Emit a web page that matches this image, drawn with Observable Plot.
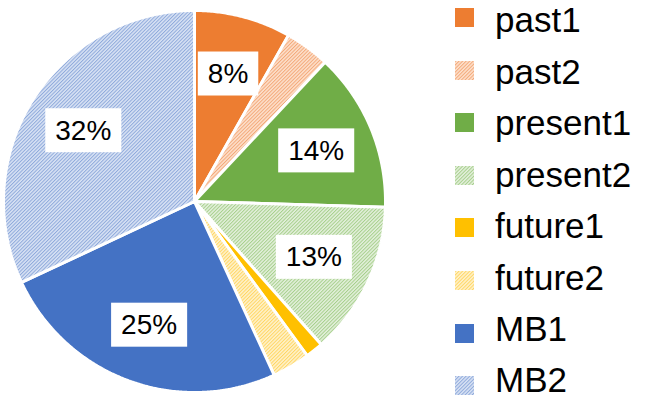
<!DOCTYPE html>
<html>
<head>
<meta charset="utf-8">
<script src="https://cdn.jsdelivr.net/npm/d3@7"></script>
<script src="https://cdn.jsdelivr.net/npm/@observablehq/plot@0.6"></script>
<style>
  html, body { margin: 0; padding: 0; background: #fff; }
  #wrap { position: relative; width: 647px; height: 400px; font-family: "Liberation Sans", Arial, sans-serif; }
  #chart { position: absolute; left: 0; top: 0; }
  #legend { position: absolute; left: 455px; top: 0; width: 192px; height: 400px; }
  .sw { position: absolute; left: 0; display: block; }
  .lt { position: absolute; left: 40px; font-size: 35px; line-height: normal; color: #000; white-space: nowrap; }
</style>
</head>
<body>
<svg width="0" height="0" style="position:absolute">
  <defs>
    <pattern id="p-past2" width="2.5" height="2.5" patternUnits="userSpaceOnUse" patternTransform="rotate(45)">
      <rect width="2.5" height="2.5" fill="#fde1cd"></rect>
      <rect width="1" height="2.5" fill="#f3a878"></rect>
    </pattern>
    <pattern id="p-present2" width="2.5" height="2.5" patternUnits="userSpaceOnUse" patternTransform="rotate(45)">
      <rect width="2.5" height="2.5" fill="#e4f0dc"></rect>
      <rect width="1" height="2.5" fill="#a6cf8b"></rect>
    </pattern>
    <pattern id="p-future2" width="2.5" height="2.5" patternUnits="userSpaceOnUse" patternTransform="rotate(45)">
      <rect width="2.5" height="2.5" fill="#fff2cc"></rect>
      <rect width="1" height="2.5" fill="#ffd662"></rect>
    </pattern>
    <pattern id="p-MB2" width="2.5" height="2.5" patternUnits="userSpaceOnUse" patternTransform="rotate(45)">
      <rect width="2.5" height="2.5" fill="#d9e3f4"></rect>
      <rect width="1" height="2.5" fill="#8ea9db"></rect>
    </pattern>
  </defs>
</svg>
<div id="wrap">
  <div id="chart"></div>
  <div id="legend"></div>
</div>
<script>
const categories = ["past1", "past2", "present1", "present2", "future1", "future2", "MB1", "MB2"];
const values = [8.2, 3.8, 13.5, 13.0, 1.5, 3.2, 24.9, 32.0];
const labels = ["8%", "", "14%", "13%", "", "", "25%", "32%"];
const fills = ["#ED7D31", "url(#p-past2)", "#70AD47", "url(#p-present2)", "#FFC000", "url(#p-future2)", "#4472C4", "url(#p-MB2)"];

const total = d3.sum(values);
const slices = [];
const labelData = [];
let acc = 0;
categories.forEach((c, i) => {
  const a0 = acc / total * 2 * Math.PI;
  acc += values[i];
  const a1 = acc / total * 2 * Math.PI;
  slices.push({cat: c, fill: fills[i], x: 0, y: 0});
  const n = Math.max(2, Math.ceil((a1 - a0) / (Math.PI / 360)));
  for (let k = 0; k <= n; k++) {
    const a = a0 + (a1 - a0) * k / n;
    slices.push({cat: c, fill: fills[i], x: Math.sin(a), y: Math.cos(a)});
  }
  if (labels[i]) {
    const m = (a0 + a1) / 2;
    labelData.push({label: labels[i], x: 0.69 * Math.sin(m), y: 0.69 * Math.cos(m)});
  }
});

const plot = Plot.plot({
  width: 647,
  height: 400,
  marginLeft: 3,
  marginRight: 262,
  marginTop: 10,
  marginBottom: 8,
  x: {domain: [-1, 1], axis: null},
  y: {domain: [-1, 1], axis: null},
  color: {type: "identity"},
  style: {background: "#fff", overflow: "visible"},
  marks: [
    Plot.line(slices, {x: "x", y: "y", z: "cat", fill: "fill", stroke: "#fff", strokeWidth: 3, strokeLinejoin: "miter", curve: "linear-closed"}),
    Plot.text(labelData, {x: "x", y: "y", text: "label", fontSize: 28, fill: "#000", fontFamily: "Liberation Sans, Arial, sans-serif", className: "pct"})
  ]
});
document.getElementById("chart").appendChild(plot);

// white boxes behind the percentage labels
plot.querySelectorAll("g.pct text").forEach(t => {
  const b = t.getBBox();
  const r = document.createElementNS("http://www.w3.org/2000/svg", "rect");
  const padX = 10, h = 44;
  r.setAttribute("x", b.x - padX);
  r.setAttribute("y", b.y + b.height / 2 - h / 2);
  r.setAttribute("width", b.width + 2 * padX);
  r.setAttribute("height", h);
  r.setAttribute("fill", "#fff");
  const tr = t.getAttribute("transform");
  if (tr) r.setAttribute("transform", tr);
  t.parentNode.insertBefore(r, t);
});

// legend
const legend = document.getElementById("legend");
categories.forEach((c, i) => {
  const sw = document.createElementNS("http://www.w3.org/2000/svg", "svg");
  sw.setAttribute("class", "sw");
  sw.setAttribute("width", 19);
  sw.setAttribute("height", 19);
  sw.style.top = (17.5 + i * 52.6 - 9.5) + "px";
  sw.innerHTML = `<rect width="19" height="19" fill="${fills[i]}"></rect>`;
  legend.appendChild(sw);
  const t = document.createElement("span");
  t.className = "lt";
  t.textContent = c;
  const center = 20 + i * (360 / 7);
  t.style.top = (center - 19.6) + "px";
  legend.appendChild(t);
});
</script>
</body>
</html>
